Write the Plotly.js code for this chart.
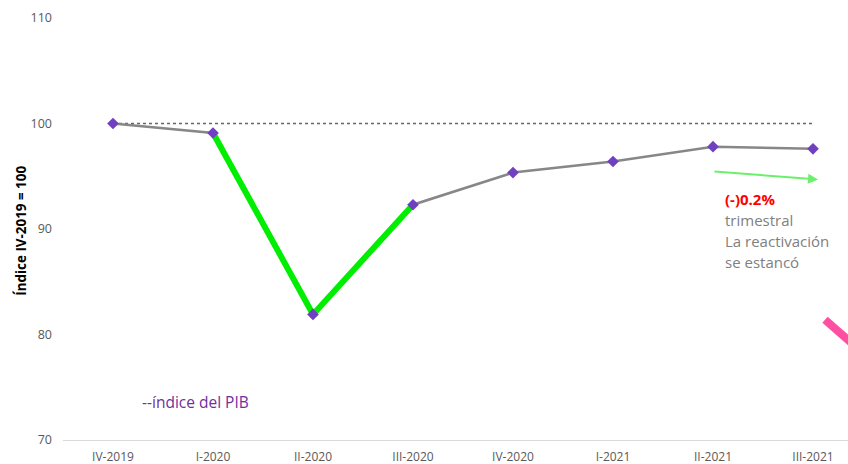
<!DOCTYPE html>
<html><head><meta charset="utf-8">
<script src="https://cdn.plot.ly/plotly-3.0.1.min.js"></script>
<style>html,body{margin:0;padding:0;background:#fff}</style>
</head><body><div id="chart" style="width:848px;height:464px"></div>
<script>
const quarters = ["IV-2019","I-2020","II-2020","III-2020","IV-2020","I-2021","II-2021","III-2021"];
const pibIndex = [100, 99.1, 81.9, 92.3, 95.35, 96.4, 97.8, 97.6];
const baseLevel = [100, 100, 100, 100, 100, 100, 100, 100];
const dropIdx = [1, 2, 3];

const FONT = "Open Sans, Liberation Sans, sans-serif";
const traces = [
  {x: quarters, y: baseLevel, mode: "lines", line: {color: "#666666", width: 1.6, dash: "dot"}, hoverinfo: "skip"},
  {x: quarters, y: pibIndex, mode: "lines", line: {color: "#878787", width: 2.6}, hoverinfo: "skip"},
  {x: dropIdx.map(i => quarters[i]), y: dropIdx.map(i => pibIndex[i]), mode: "lines", line: {color: "#00EE00", width: 6}, hoverinfo: "skip"},
  {x: quarters, y: pibIndex, mode: "markers", marker: {symbol: "diamond", color: "#7040C0", size: 9}, hoverinfo: "skip"}
];

const layout = {
  width: 848, height: 464,
  margin: {l: 63, r: 0, t: 18, b: 24},
  paper_bgcolor: "#fff", plot_bgcolor: "#fff",
  showlegend: false,
  font: {family: FONT, color: "#595959", size: 12},
  xaxis: {type: "category", range: [-0.5, 7.35], showgrid: false, zeroline: false,
          showline: true, linecolor: "#d9d9d9", linewidth: 1, ticks: "", ticklabelstandoff: 6,
          tickfont: {size: 12, color: "#595959"}},
  yaxis: {range: [70, 110], tickvals: [70, 80, 90, 100, 110], showgrid: false, zeroline: false,
          showline: false, ticks: "", ticklabelstandoff: 10, tickfont: {size: 12.5, color: "#595959"}},
  shapes: [
    {type: "line", xref: "x", yref: "y", x0: 7.12, y0: 81.4, x1: 7.6, y1: 77.4,
     line: {color: "#FF4FA3", width: 8}}
  ],
  annotations: [
    {xref: "paper", yref: "paper", x: -42/785, y: 0.496, text: "<b>Índice IV-2019 = 100</b>", textangle: -90,
     showarrow: false, font: {size: 13.4, color: "#000"}, xanchor: "center", yanchor: "middle"},
    {xref: "x", yref: "y", x: 7.05, y: 94.7, ax: 6.0, ay: 95.45, axref: "x", ayref: "y", text: "",
     showarrow: true, arrowhead: 2, arrowsize: 1, arrowwidth: 2, arrowcolor: "#6CF06C"},
    {xref: "x", yref: "y", x: 6.10, y: 92.8, text: "<b>(-)0.2%</b>", showarrow: false, xanchor: "left",
     font: {size: 15, color: "#FF0000"}},
    {xref: "x", yref: "y", x: 6.10, y: 90.9, text: "trimestral", showarrow: false, xanchor: "left",
     font: {size: 15, color: "#808080"}},
    {xref: "x", yref: "y", x: 6.10, y: 88.85, text: "La reactivación", showarrow: false, xanchor: "left",
     font: {size: 15, color: "#808080"}},
    {xref: "x", yref: "y", x: 6.10, y: 86.85, text: "se estancó", showarrow: false, xanchor: "left",
     font: {size: 15, color: "#808080"}},
    {xref: "paper", yref: "paper", x: 77/785, y: (440-402)/422, text: "--índice del PIB", showarrow: false,
     xanchor: "left", yanchor: "middle", font: {size: 15.5, color: "#7030A0"}}
  ]
};
Plotly.newPlot("chart", traces, layout, {displayModeBar: false, staticPlot: true});
</script></body></html>
